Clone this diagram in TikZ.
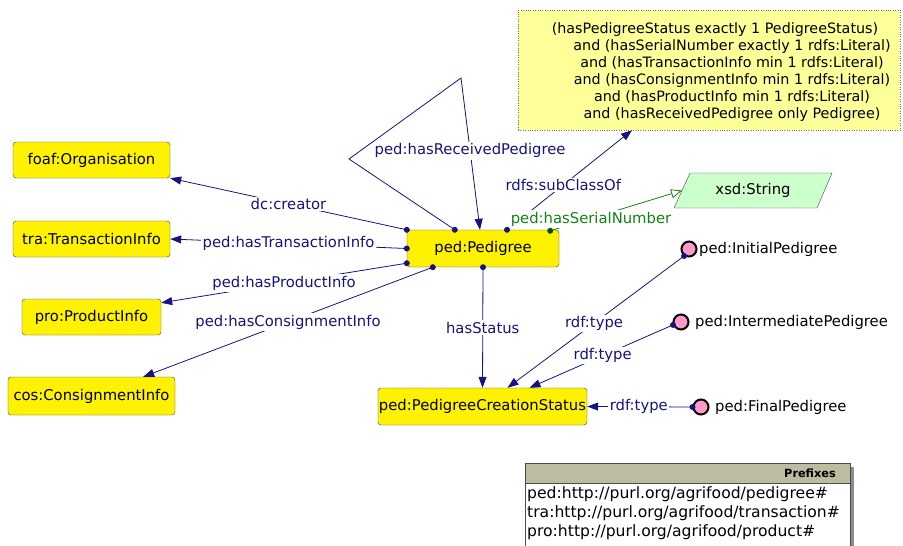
\documentclass[tikz,border=0pt]{standalone}
\usepackage{fontspec}
\setmainfont{DejaVu Sans}
\usetikzlibrary{arrows.meta}
\definecolor{navy}{RGB}{20,20,128}
\definecolor{edgegreen}{RGB}{20,130,20}
\definecolor{indpink}{RGB}{255,153,204}
\definecolor{xsdgreen}{RGB}{204,255,204}
\definecolor{annyellow}{RGB}{255,255,153}
\definecolor{prefhead}{RGB}{188,188,160}
\begin{document}
\begin{tikzpicture}[x=1pt,y=-1pt,
  every node/.style={font=\fontsize{14.8}{17}\selectfont},
  cls/.style={draw=black!75, fill=yellow, rounded corners=3pt, minimum height=36pt, inner sep=0pt},
  edge/.style={draw=navy, line width=0.8pt, -{Triangle[length=11pt,width=8pt]}},
  lbl/.style={fill=white, text=navy, inner sep=1.5pt},
  dotnode/.style={circle, fill=navy, inner sep=0pt, minimum size=6pt},
  ind/.style={circle, draw=black, line width=2pt, fill=indpink, minimum size=15pt, inner sep=0pt},
  indlbl/.style={anchor=west, inner sep=0pt, text=black},
]
\useasboundingbox (0,0) rectangle (903,546);
\clip (0,0) rectangle (903,546);

% annotation box
\node[draw=black!55, dotted, fill=annyellow, minimum width=382pt, minimum height=120pt, inner sep=0pt] (ann) at (709,70) {};
\node[align=center, inner sep=0pt, font=\fontsize{14.3}{17}\selectfont] (anntxt) at (732,72)
 {(hasPedigreeStatus exactly 1 PedigreeStatus)\hspace*{34pt}\\
  and (hasSerialNumber exactly 1 rdfs:Literal)\\
  and (hasTransactionInfo min 1 rdfs:Literal)\\
  and (hasConsignmentInfo min 1 rdfs:Literal)\\
  and (hasProductInfo min 1 rdfs:Literal)\\
  and (hasReceivedPedigree only Pedigree)};

% class nodes
\node[cls, minimum width=157pt] (org) at (91.5,160) {foaf:Organisation};
\node[cls, minimum width=157pt] (tra) at (91.5,239) {tra:TransactionInfo};
\node[cls, minimum width=139pt] (pro) at (91.5,317) {pro:ProductInfo};
\node[cls, minimum width=167pt, minimum height=38pt] (cos) at (91.5,396) {cos:ConsignmentInfo};
\node[cls, minimum width=152pt, minimum height=37pt] (ped) at (483,248.5) {ped:Pedigree};
\node[cls, minimum width=209pt, minimum height=37pt] (pcs) at (482.5,406.5) {ped:PedigreeCreationStatus};

% datatype
\coordinate (xsdw) at (682,190.5);
\filldraw[draw=black!75, fill=xsdgreen] (690,173) -- (832,173) -- (817,208) -- (674,208) -- cycle;
\node (xsd) at (753,190.5) {xsd:String};

% individuals
\node[ind] (ind1) at (689,249) {};
\node[indlbl] (ind1l) at (699,249) {ped:InitialPedigree};
\node[ind] (ind2) at (681,322) {};
\node[indlbl] (ind2l) at (695,322) {ped:IntermediatePedigree};
\node[ind] (ind3) at (701,407) {};
\node[indlbl] (ind3l) at (715,407) {ped:FinalPedigree};

% helper coordinates
\coordinate (lp1) at (349,159);
\coordinate (lp2) at (461,78);
\coordinate (pA) at (ped.north west);
\coordinate (pB) at (ped.west);
\coordinate (pC) at ([yshift=4pt]ped.south west);
\coordinate (pD) at ([xshift=26pt]ped.south west);
\coordinate (pE) at ([xshift=48pt]ped.north west);
\coordinate (pF) at ([xshift=24pt]ped.north);
\coordinate (pG) at ([xshift=-9pt,yshift=-1pt]ped.north east);
\coordinate (pH) at (ped.south);

% edges
\draw[edge] (pA) -- node[lbl]{dc:creator} (org.south east);
\draw[edge] (pB) -- node[lbl]{ped:hasTransactionInfo} (tra.east);
\draw[edge] (pC) -- node[lbl]{ped:hasProductInfo} ([yshift=-4pt]pro.north east);
\draw[edge] (pD) -- node[lbl]{ped:hasConsignmentInfo} ([xshift=-32pt]cos.north east);
\draw[edge] (pE) -- (lp1) -- (lp2) -- node[lbl,pos=0.48]{ped:hasReceivedPedigree} ([xshift=-3pt]ped.north);
\draw[edge] (pF) -- node[lbl,pos=0.45]{rdfs:subClassOf} ([xshift=-77pt]ann.south);
\draw[draw=edgegreen, line width=0.8pt, -{Triangle[open,length=11pt,width=9pt]}] (pG) -- (xsdw);
\node[fill=white, text=edgegreen, inner sep=1.5pt] (serlbl) at (591,219) {ped:hasSerialNumber};
\draw[edge] (pH) -- node[lbl]{hasStatus} (pcs.north);
\draw[edge] (ind1.235) -- node[lbl,pos=0.51]{rdf:type} ([xshift=25pt]pcs.north);
\draw[edge] (ind2.200) -- node[lbl,pos=0.49]{rdf:type} ([xshift=47pt]pcs.north);
\draw[edge] (ind3.west) -- node[lbl,pos=0.51]{rdf:type} (pcs.east);

% dots
\foreach \p in {pA,pB,pC,pD,pE,pF,pH} \node[dotnode] at (\p) {};
\node[dotnode, fill=edgegreen!60!black] at (pG) {};
\node[dotnode] at (ind1.235) {};
\node[dotnode] at (ind2.200) {};
\node[dotnode] at (ind3.west) {};

% prefixes box
\fill[black!45] (529,467) rectangle (854,560);
\filldraw[draw=black!70, fill=white] (525,463) rectangle (850,560);
\filldraw[draw=black!70, fill=prefhead] (525,463) rectangle (850,483);
\node[anchor=east, inner sep=0pt, font=\fontsize{11.3}{13}\selectfont\bfseries] (preft) at (836,473) {Prefixes};
\node[anchor=north west, align=left, inner sep=0pt, font=\fontsize{15.6}{19}\selectfont] (prefl) at (527,486)
 {ped:http://purl.org/agrifood/pedigree\#\\
  tra:http://purl.org/agrifood/transaction\#\\
  pro:http://purl.org/agrifood/product\#};
\end{tikzpicture}
\end{document}
